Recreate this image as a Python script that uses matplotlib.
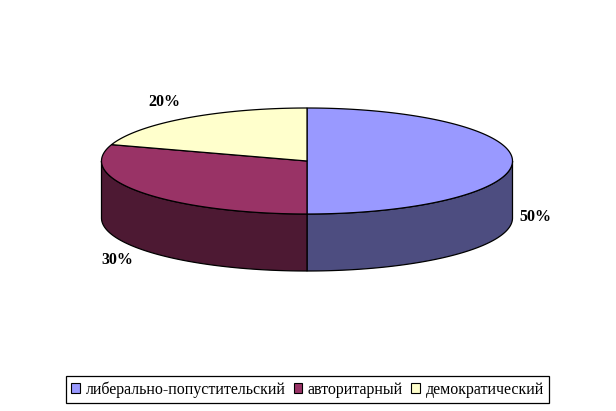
import numpy as np
from matplotlib import pyplot as plt
from matplotlib.patches import Patch, Polygon

categories = ['либерально-попустительский', 'авторитарный', 'демократический']
shares = [50, 30, 20]
top_colors = ['#9999FF', '#993366', '#FFFFCC']
side_colors = ['#4D4D80', '#4D1933', '#808066']
label_pos = [(535.5, 217), (117.5, 260), (164.5, 102)]

# pie geometry in image pixels
cx, cy = 307, 161
rx, ry = 205.5, 53
depth = 57

plt.rcParams['font.family'] = ['Liberation Serif', 'DejaVu Serif']

fig = plt.figure(figsize=(6.16, 4.11), dpi=100)
ax = fig.add_axes([0, 0, 1, 1])
ax.set_xlim(0, 616)
ax.set_ylim(411, 0)
ax.axis('off')


def rim(a0, a1):
    t = np.radians(np.linspace(a0, a1, 200))
    return cx + rx * np.sin(t), cy - ry * np.cos(t)


start = 0
for share, side in zip(shares, side_colors):
    end = start + share * 3.6
    # side wall, only the part facing the viewer
    a0, a1 = max(start, 90), min(end, 270)
    if a1 > a0:
        x, y = rim(a0, a1)
        pts = np.r_[np.c_[x, y], np.c_[x[::-1], y[::-1] + depth]]
        ax.add_patch(Polygon(pts, closed=True, fc=side, ec='black', lw=0.9))
    start = end

start = 0
for share, top in zip(shares, top_colors):
    end = start + share * 3.6
    x, y = rim(start, end)
    pts = np.r_[[[cx, cy]], np.c_[x, y]]
    ax.add_patch(Polygon(pts, closed=True, fc=top, ec='black', lw=0.9))
    start = end

for share, (lx, ly) in zip(shares, label_pos):
    ax.text(lx, ly, f'{share}%', ha='center', va='center',
            fontsize=11.5, fontweight='bold', color='black')

handles = [Patch(fc=c, ec='black', lw=0.8) for c in top_colors]
leg = ax.legend(handles, categories, ncol=3, loc='center',
                bbox_to_anchor=(307.5, 389.5), bbox_transform=ax.transData,
                fontsize=11.5, frameon=True, fancybox=False, framealpha=1,
                edgecolor='black', handlelength=0.55, handleheight=0.55,
                handletextpad=0.35, columnspacing=0.5, borderpad=0.35,
                borderaxespad=0)
leg.get_frame().set_linewidth(0.9)

fig.savefig('out.png', dpi=100)
